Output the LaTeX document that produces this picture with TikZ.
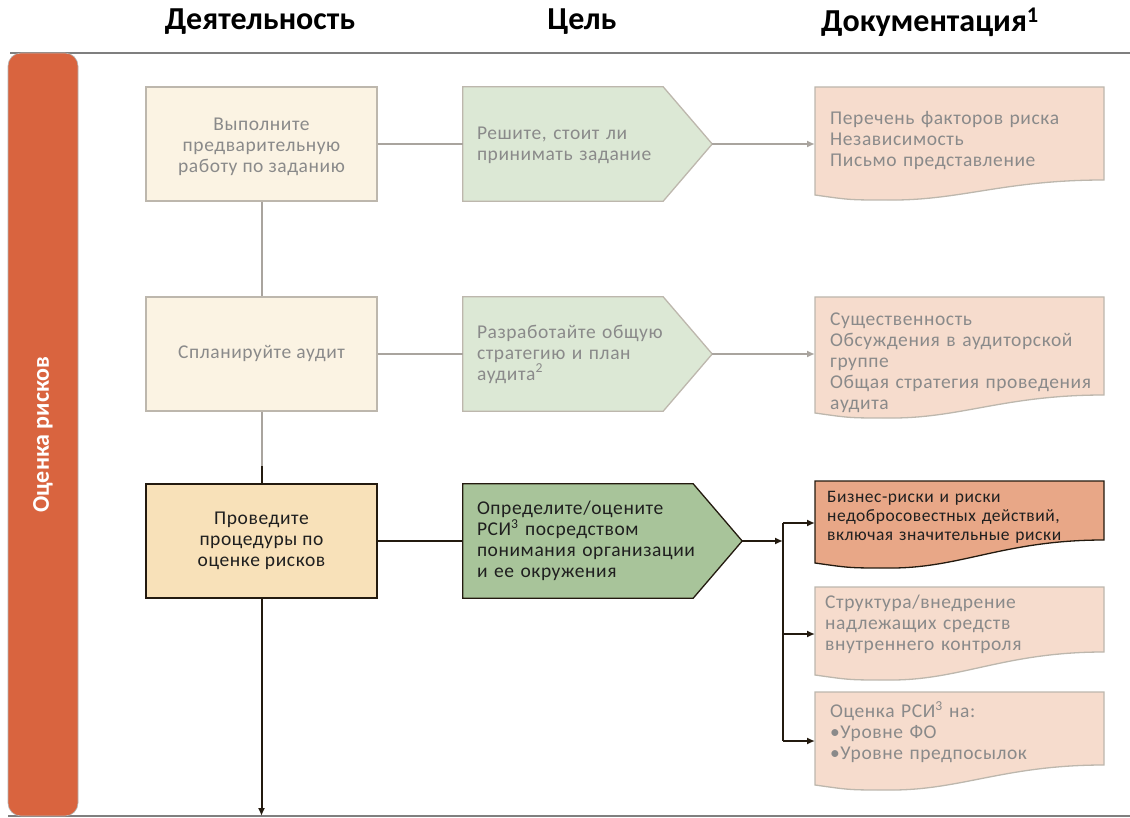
\documentclass[tikz,border=0pt]{standalone}
\usepackage{fontspec}
\setmainfont{Carlito}
\newfontfamily\bodyfont[LetterSpace=3]{Carlito}
\usetikzlibrary{arrows.meta}
\definecolor{barfill}{HTML}{D9643F}
\definecolor{framegray}{HTML}{7F7F7F}
\definecolor{actfill}{HTML}{FBF3E3}
\definecolor{actfillhi}{HTML}{F8E1B9}
\definecolor{lightline}{HTML}{BDB7AD}
\definecolor{darkline}{HTML}{231A0F}
\definecolor{goalfill}{HTML}{DCE8D5}
\definecolor{goalfillhi}{HTML}{A8C49A}
\definecolor{docfill}{HTML}{F6DCCD}
\definecolor{docfillhi}{HTML}{E8A787}
\definecolor{graytxt}{HTML}{8A8A8A}
\definecolor{darktxt}{HTML}{1F1F1F}
\definecolor{grayconn}{HTML}{A9A49E}
\tikzset{
  header/.style={font=\fontsize{32}{34}\bfseries\selectfont, text=black, inner sep=0pt},
  actbox/.style={draw=lightline, fill=actfill, line width=1.3pt, minimum width=231pt, minimum height=114pt, align=center, text=graytxt, font=\bodyfont\fontsize{19.5}{21}\selectfont, inner sep=0pt},
  actboxhi/.style={actbox, draw=darkline, fill=actfillhi, text=darktxt},
  acttext/.style={align=center, text=graytxt, font=\bodyfont\fontsize{19.5}{21}\selectfont, inner sep=0pt},
  goalshape/.style={minimum height=114pt, inner sep=0pt},
  goaltext/.style={anchor=west, inner xsep=14pt, inner ysep=0pt, text width=240pt, align=left, text=graytxt, font=\bodyfont\fontsize{19.5}{21}\selectfont},
  goaltexthi/.style={goaltext, text=darktxt},
  goalline/.style={draw=lightline, fill=goalfill, line width=1.3pt, line join=miter},
  goallinehi/.style={goalline, draw=darkline, fill=goalfillhi},
  docnode/.style={anchor=west, inner xsep=15pt, inner ysep=0pt, text width=280pt, align=left, text=graytxt, font=\bodyfont\fontsize{19.5}{21}\selectfont},
  docnodehi/.style={docnode, text=darktxt, font=\bodyfont\fontsize{17.5}{19}\selectfont, inner xsep=12pt},
  docline/.style={draw=lightline, fill=docfill, line width=1.3pt},
  doclinehi/.style={docline, draw=darkline, fill=docfillhi},
  grayarrow/.style={draw=grayconn, line width=2pt, -{Latex[length=8pt,width=7pt]}},
  grayline/.style={draw=grayconn, line width=2pt},
  darkarrow/.style={draw=darkline, line width=2pt, -{Latex[length=8pt,width=7pt]}},
  darkline/.style={draw=darkline, line width=2pt},
}
% document shape: top, left-bottom, right-bottom, style
\newcommand{\docshape}[4]{%
  \draw[#4] (815,#1) -- (1104,#1) -- (1104,#3)
    .. controls (1003,#3) and (960,#2+6) .. (887,#2+5)
    .. controls (850,#2+5) .. (815,#2) -- cycle;}
\begin{document}
\begin{tikzpicture}[x=1pt,y=-1pt]
\useasboundingbox (0,0) rectangle (1130,818);
% frame
\draw[framegray, line width=1.5pt] (10,53) -- (1130,53);
\draw[framegray, line width=1.5pt] (8,816) -- (1130,816);
\node[draw=framegray!60, line width=0.6pt, fill=barfill, rounded corners=13pt, minimum width=70pt, minimum height=763pt, inner sep=0pt] (bar) at (43,434.5) {};
\node[rotate=90, text=white, font=\fontsize{24}{26}\bfseries\selectfont] (barlabel) at (bar.center) {Оценка рисков};
% headers
\node[header] (h1) at (260,22) {Деятельность};
\node[header] (h2) at (582,22) {Цель};
\node[header] (h3) at (930,22) {Документация\textsuperscript{1}};
% activities
\node[actbox] (a1) at (261.5,144) {};
\node[acttext] (a1t) at ([yshift=-3pt]a1.center) {Выполните\\предварительную\\работу по заданию};
\node[actbox] (a2) at (261.5,354) {Спланируйте аудит};
\node[actboxhi] (a3) at (261.5,541) {Проведите\\процедуры по\\оценке рисков};
% goals
\node[goalshape, minimum width=200pt] (g1) at (563,144) {};
\draw[goalline] (g1.north west) -- (g1.north east) -- ([xshift=49pt]g1.east) -- (g1.south east) -- (g1.south west) -- cycle;
\node[goaltext] (g1t) at ([yshift=-1pt]g1.west) {Решите, стоит ли\\принимать задание};
\coordinate (g1tip) at ([xshift=49pt]g1.east);
\node[goalshape, minimum width=200pt] (g2) at (563,354) {};
\draw[goalline] (g2.north west) -- (g2.north east) -- ([xshift=49pt]g2.east) -- (g2.south east) -- (g2.south west) -- cycle;
\node[goaltext] (g2t) at (g2.west) {Разработайте общую\\стратегию и план\\аудита\textsuperscript{2}};
\coordinate (g2tip) at ([xshift=49pt]g2.east);
\node[goalshape, minimum width=230pt] (g3) at (578,541) {};
\draw[goallinehi] (g3.north west) -- (g3.north east) -- ([xshift=49pt]g3.east) -- (g3.south east) -- (g3.south west) -- cycle;
\node[goaltexthi] (g3t) at (g3.west) {Определите/оцените\\РСИ\textsuperscript{3} посредством\\понимания организации\\и ее окружения};
\coordinate (g3tip) at ([xshift=49pt]g3.east);
% documents
\docshape{87}{195}{180}{docline}
\node[docnode] (d1) at (815,141) {Перечень факторов риска\\Независимость\\Письмо представление};
\docshape{297}{413}{395}{docline}
\node[docnode] (d2) at (815,363) {Существенность\\Обсуждения в аудиторской\\группе\\Общая стратегия проведения\\аудита};
\docshape{481}{563}{540}{doclinehi}
\node[docnodehi] (d3) at (815,517) {Бизнес-риски и риски\\недобросовестных действий,\\включая значительные риски};
\docshape{587}{675}{652}{docline}
\node[docnode, inner xsep=10pt] (d4) at (815,624) {Структура/внедрение\\надлежащих средств\\внутреннего контроля};
\docshape{692}{785}{765}{docline}
\node[docnode] (d5) at (815,732) {Оценка РСИ\textsuperscript{3} на:\\•Уровне ФО\\•Уровне предпосылок};
% connectors
\draw[grayline] (a1.east) -- (g1.west);
\draw[grayarrow] (g1tip) -- (g1tip -| d1.west);
\draw[grayline] (a2.east) -- (g2.west);
\draw[grayarrow] (g2tip) -- (g2tip -| d2.west);
\draw[grayline] (a1.south) -- (a2.north);
\coordinate (mid23) at (261.5,466);
\draw[grayline] (a2.south) -- (mid23);
\draw[darkline] (mid23) -- (a3.north);
\draw[darkline] (a3.east) -- (g3.west);
\coordinate (bus) at (783,541);
\draw[darkarrow] (g3tip) -- (bus);
\coordinate (b3) at (783,523);
\coordinate (b4) at (783,634);
\coordinate (b5) at (783,741);
\draw[darkline] (b3) -- (b5);
\draw[darkarrow] (b3) -- (b3 -| d3.west);
\draw[darkarrow] (b4) -- (b4 -| d4.west);
\draw[darkarrow] (b5) -- (b5 -| d5.west);
\coordinate (endpt) at (261.5,816);
\draw[darkarrow] (a3.south) -- (endpt);
\end{tikzpicture}
\end{document}
